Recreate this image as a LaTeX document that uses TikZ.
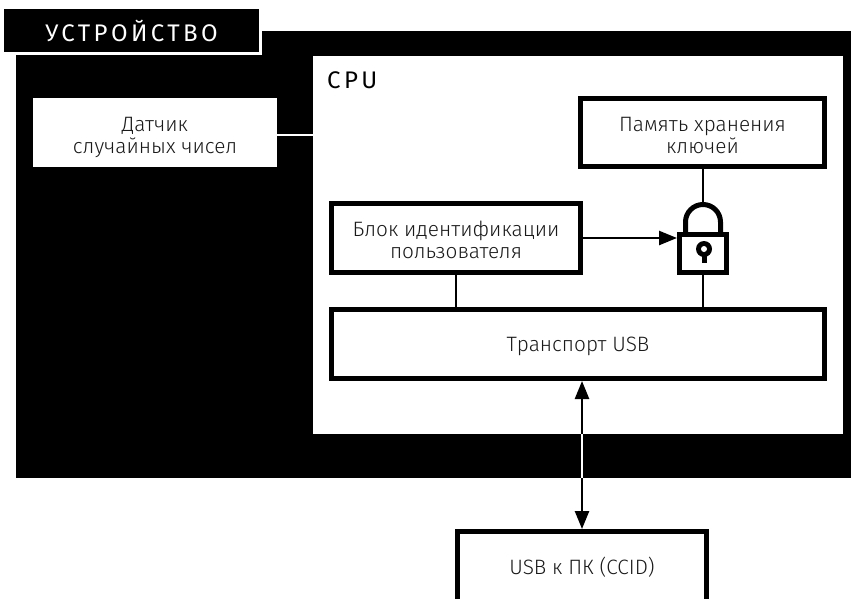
\documentclass[tikz,border=0pt]{standalone}
\usepackage{fontspec}
\setmainfont{Fira Sans}[UprightFont=* Light]
\newfontfamily\titlefont{Fira Sans}[LetterSpace=14]
\newfontfamily\cpufont{Fira Sans}[LetterSpace=14]
\usetikzlibrary{arrows.meta}
\definecolor{ink}{HTML}{1A1A1A}
\newcommand\liftline[2]{\raisebox{0pt}[\dimexpr\height+#1pt][\depth]{#2}}
\tikzset{
  boxnode/.style={draw=black,line width=5pt,fill=white,align=center,text=ink,font=\fontsize{20.8}{22}\selectfont,inner sep=0pt},
  conn/.style={draw=black,line width=2.5pt},
  headtip/.style={-{Triangle[length=18pt,width=14pt]}},
  bothtip/.style={{Triangle[length=18pt,width=14pt]}-{Triangle[length=18pt,width=14pt]}},
  solidnode/.style={inner sep=0pt,outer sep=0pt,line width=0pt},
}
\begin{document}
\begin{tikzpicture}[x=1pt,y=-1pt]
\clip (0,0) rectangle (851,598);
\fill[white] (0,0) rectangle (851,598);
% device
\node[solidnode,fill=black,minimum width=844pt,minimum height=447pt] (device) at (438,254.5) {};
\node[solidnode,fill=black,minimum width=255pt,minimum height=43pt,text=white,font=\titlefont\fontsize{24}{26}\selectfont] (title) at (131.5,30.5) {УСТРОЙСТВО};
\draw[white,line width=3pt] ([yshift=-1.5pt]title.south west) -| ([xshift=1.5pt]title.north east);
% cpu
\node[solidnode,fill=white,minimum width=530pt,minimum height=378pt] (cpu) at (578,245) {};
\node[anchor=west,inner sep=0pt,text=black,font=\cpufont\fontsize{24}{26}\selectfont] (cpulabel) at (327,80) {CPU};
% rng
\node[solidnode,fill=white,minimum width=244pt,minimum height=69pt,align=center,text=ink,font=\fontsize{20.8}{22}\selectfont] (rng) at (155,132.5) {\liftline{9}{Датчик}\\случайных чисел};
\draw[white,line width=2pt] ([yshift=-2.5pt]rng.east) -- ([yshift=-2.5pt]rng.east -| cpu.west);
% boxes
\node[boxnode,minimum width=244pt,minimum height=68pt] (keybox) at (702.5,132.5) {\liftline{5}{Память хранения}\\ключей};
\node[boxnode,minimum width=249pt,minimum height=69pt] (user) at (456,238) {\liftline{4}{Блок идентификации}\\пользователя};
\node[boxnode,minimum width=493pt,minimum height=69pt] (usb) at (578,344) {\liftline{4}{Транспорт USB}};
\node[boxnode,minimum width=249pt,minimum height=71pt] (pc) at (582,567) {USB к ПК (CCID)};
% lock
\node[draw=black,line width=5pt,fill=white,minimum width=47pt,minimum height=38pt,inner sep=0pt] (lock) at (703,253.5) {};
\coordinate (shackletop) at (703,202);
\draw[black,line width=5pt] (685.5,233) -- (685.5,222) arc[start angle=180,end angle=0,radius=17.5pt] -- (720.5,233);
\fill[black] (704,249) circle[radius=8pt];
\fill[black] (701.5,250) rectangle (706.5,263);
\fill[white] (704,249) circle[radius=3pt];
% connectors
\draw[conn] (keybox.south -| lock.north) -- (shackletop);
\draw[conn] (lock.south) -- (lock.south |- usb.north);
\draw[conn] (user.south) -- (user.south |- usb.north);
\draw[conn,headtip] (user.east) -- (lock.west |- user.east);
\draw[conn,bothtip] (pc.north |- usb.south) -- (pc.north);
\draw[white,line width=2pt] (pc.north |- cpu.south) -- (pc.north |- device.south);
\end{tikzpicture}
\end{document}
